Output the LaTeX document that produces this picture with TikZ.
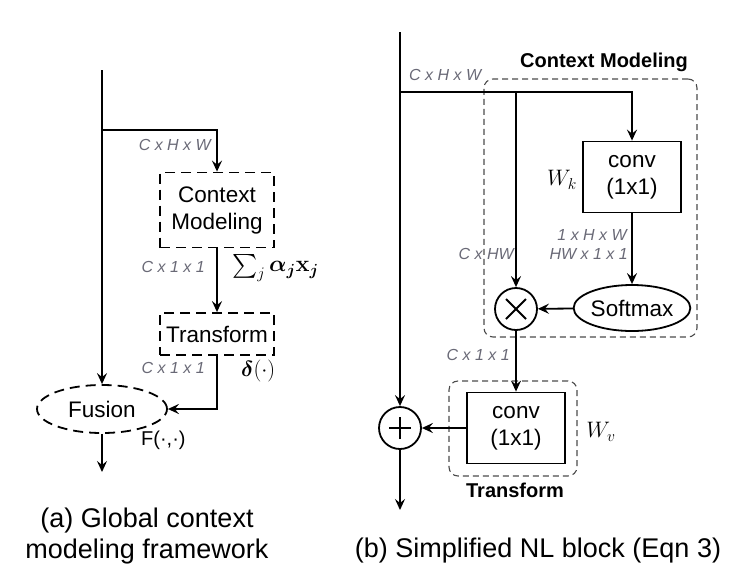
\IfFileExists{fix-cm.sty}{\RequirePackage{fix-cm}}{}
\documentclass[tikz,border=0pt]{standalone}
\usepackage{amsmath,bm,graphicx}
\usepackage[no-math]{fontspec}
\setmainfont{Liberation Sans}
\usetikzlibrary{arrows.meta,shapes.geometric}
\definecolor{lblgray}{RGB}{105,105,118}
\definecolor{grpgray}{RGB}{75,75,75}
\newcommand{\fsz}[2]{\fontsize{#1pt}{#2pt}\selectfont}
\tikzset{
  ln/.style={line width=1.8pt},
  arr/.style={ln,-{Stealth[length=11pt,width=10pt,inset=4pt]}},
  nodetext/.style={font=\fsz{22.5}{27}},
  dbox/.style={nodetext,draw,line width=1.8pt,dash pattern=on 10pt off 6pt,minimum width=114pt,align=center,inner sep=2pt},
  sbox/.style={nodetext,draw,line width=1.8pt,minimum width=98pt,minimum height=71pt,align=center,inner sep=2pt},
  grp/.style={draw=grpgray,line width=1.1pt,dash pattern=on 6pt off 4pt,rounded corners=9pt,inner sep=0pt},
  grptitle/.style={font=\bfseries\fsz{20}{24}},
  dim/.style={text=lblgray,font=\fsz{16}{19}\itshape,inner sep=0pt},
  mathlbl/.style={inner sep=0pt},
  opcirc/.style={circle,draw,line width=1.8pt,minimum size=42pt,inner sep=0pt},
  caption/.style={font=\fsz{27}{31},align=center}
}
\begin{document}
\begin{tikzpicture}[x=1pt,y=-1pt]
\useasboundingbox (0,0) rectangle (744,582);

% ---------------- panel (a) ----------------
\coordinate (a0) at (102,70);
\coordinate (a1) at (102,130);
\coordinate (aout) at (102,472);
\node[dbox,minimum height=75pt] (cm) at (217,210) {Context\\Modeling};
\node[dbox,minimum height=42pt] (tr) at (217,334) {Transform};
\node[nodetext,ellipse,draw,line width=1.8pt,dash pattern=on 10pt off 6pt,minimum width=130pt,minimum height=48pt,inner sep=0pt] (fu) at (102,409) {Fusion};

\draw[arr] (a0) -- (fu.north);
\draw[arr] (a1) -| (cm.north);
\draw[arr] (cm) -- (tr);
\draw[arr] (tr.south) |- (fu.east);
\draw[arr] (fu.south) -- (aout);

\node[dim,anchor=east] (la1) at (211,145) {C x H x W};
\node[dim,anchor=east] (la2) at (205,267) {C x 1 x 1};
\node[mathlbl,anchor=west,font=\fsz{20}{24}] (la3) at (232,268) {\scalebox{1.15}{$\sum_j \bm{\alpha_j}\mathbf{x}_{\bm{j}}$}};
\node[dim,anchor=east] (la4) at (205,368) {C x 1 x 1};
\node[mathlbl,anchor=west,font=\fsz{20}{24}] (la5) at (241,371) {\scalebox{1.1}{$\bm{\delta}(\cdot)$}};
\node[mathlbl,anchor=west,font=\fsz{20}{24}] (la6) at (141,440) {F(·,·)};

\node[caption] (capa) at (147,536) {(a) Global context\\modeling framework};

% ---------------- panel (b) ----------------
\node[grp,minimum width=213pt,minimum height=258pt] (cmg) at (590.5,208) {};
\node[grp,minimum width=128pt,minimum height=95pt] (trg) at (513,428.5) {};
\node[grptitle] (cmt) at (604,62) {Context Modeling};
\node[grptitle] (trt) at (515,490) {Transform};

\coordinate (b0) at (400,32);
\coordinate (b1) at (400,92);
\coordinate (b2) at (516,92);
\coordinate (bout) at (400,510);

\node[sbox] (conv1) at (632,177) {conv\\(1x1)};
\node[nodetext,ellipse,draw,line width=1.8pt,minimum width=105pt,minimum height=46pt,inner sep=0pt] (soft) at (632,308) {Softmax};
\node[opcirc,path picture={
  \draw[line width=2pt] ([shift={(-10pt,-10pt)}]path picture bounding box.center) -- ([shift={(10pt,10pt)}]path picture bounding box.center);
  \draw[line width=2pt] ([shift={(-10pt,10pt)}]path picture bounding box.center) -- ([shift={(10pt,-10pt)}]path picture bounding box.center);
}] (mul) at (516,309) {};
\node[sbox] (conv2) at (516,428) {conv\\(1x1)};
\node[opcirc,path picture={
  \draw[line width=2pt] ([shift={(-11pt,0pt)}]path picture bounding box.center) -- ([shift={(11pt,0pt)}]path picture bounding box.center);
  \draw[line width=2pt] ([shift={(0pt,-11pt)}]path picture bounding box.center) -- ([shift={(0pt,11pt)}]path picture bounding box.center);
}] (plus) at (400,428) {};

\draw[arr] (b0) -- (plus.north);
\draw[ln] (b1) -- (b2);
\draw[arr] (b2) -| (conv1.north);
\draw[arr] (b2) -- (mul.north);
\draw[arr] (conv1) -- (soft);
\draw[arr] (soft) -- (mul);
\draw[arr] (mul) -- (conv2);
\draw[arr] (conv2) -- (plus);
\draw[arr] (plus.south) -- (bout);

\node[dim,anchor=west] (lb1) at (409,75) {C x H x W};
\node[dim,anchor=east] (lb2) at (627,235) {1 x H x W};
\node[dim,anchor=east] (lb3) at (628,254) {HW x 1 x 1};
\node[dim,anchor=east] (lb4) at (514,254) {C x HW};
\node[dim,anchor=east] (lb5) at (510,355) {C x 1 x 1};
\node[mathlbl,font=\fsz{20}{24}] (wk) at (562,180) {\scalebox{1.12}{$W_k$}};
\node[mathlbl,font=\fsz{20}{24}] (wv) at (601,432) {\scalebox{1.12}{$W_v$}};

\node[caption] (capb) at (538,551) {(b) Simplified NL block (Eqn 3)};
\end{tikzpicture}
\end{document}
